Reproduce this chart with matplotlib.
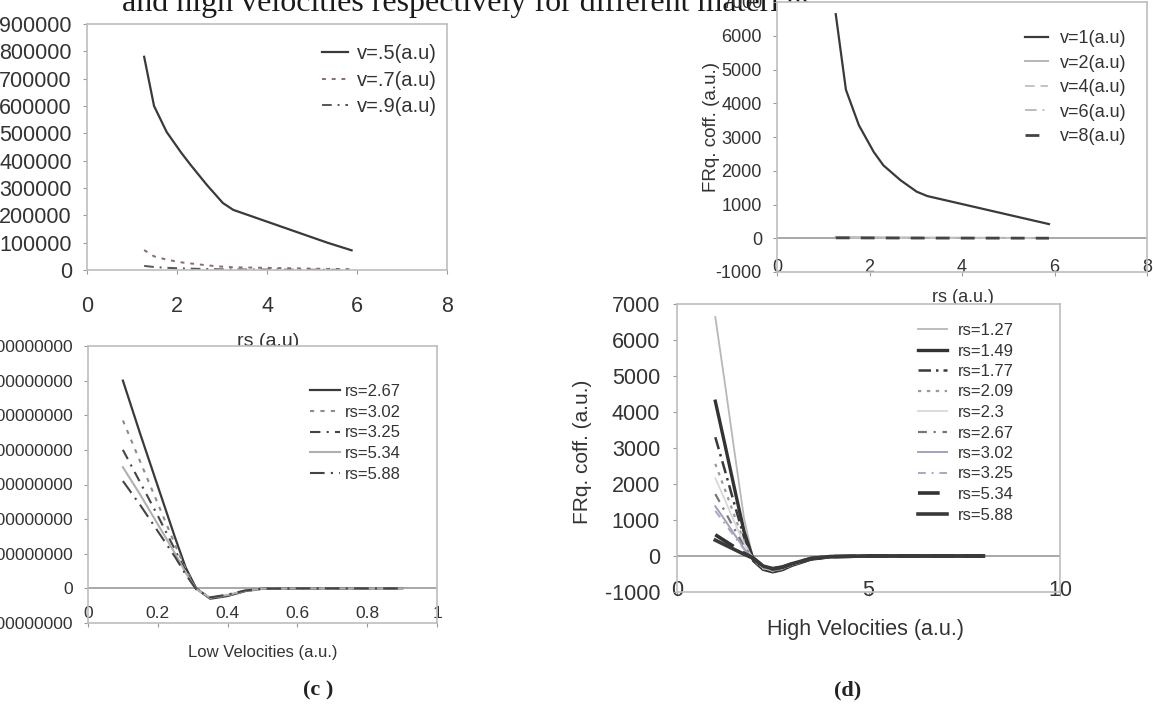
import matplotlib
matplotlib.use("Agg")
import matplotlib.pyplot as plt
from matplotlib.ticker import FuncFormatter

# ---------------- data ----------------
rs = [1.27, 1.49, 1.77, 2.09, 2.3, 2.67, 3.02, 3.25, 5.34, 5.88]

# panel (a): low velocities vs rs
a_labels = ["v=.5(a.u)", "v=.7(a.u)", "v=.9(a.u)"]
a_v05 = [780000, 600000, 505000, 430000, 385000, 310000, 245000, 220000, 100000, 72000]
a_v07 = [73000, 50000, 38000, 28000, 24000, 17000, 12000, 10000, 4000, 3000]
a_v09 = [15000, 11000, 8000, 6000, 5000, 3500, 2500, 2000, 800, 600]

# panel (b): high velocities vs rs
b_labels = ["v=1(a.u)", "v=2(a.u)", "v=4(a.u)", "v=6(a.u)", "v=8(a.u)"]
b_v1 = [6640, 4400, 3350, 2560, 2160, 1720, 1380, 1250, 590, 420]
b_v2 = [40, 36, 32, 28, 25, 22, 20, 18, 10, 8]
b_v4 = [25, 22, 20, 18, 16, 14, 12, 11, 6, 5]
b_v6 = [18, 16, 14, 12, 11, 10, 9, 8, 4, 3]
b_v8 = [12, 11, 10, 9, 8, 7, 6, 5, 3, 2]

# panel (c): FRq coefficient vs low velocity
vel_low = [0.1, 0.15, 0.2, 0.25, 0.28, 0.31, 0.35, 0.4, 0.45, 0.5, 0.6, 0.7, 0.8, 0.9]
c_labels = ["rs=2.67", "rs=3.02", "rs=3.25", "rs=5.34", "rs=5.88"]
c_267 = [6.0e8, 4.45e8, 2.95e8, 1.45e8, 0.6e8, 0.0, -0.30e8, -0.22e8, -0.08e8, -0.01e8, 0, 0, 0, 0]
c_302 = [4.85e8, 3.65e8, 2.45e8, 1.25e8, 0.55e8, 0.0, -0.29e8, -0.21e8, -0.08e8, -0.01e8, 0, 0, 0, 0]
c_325 = [4.0e8, 3.05e8, 2.1e8, 1.1e8, 0.5e8, 0.0, -0.28e8, -0.20e8, -0.07e8, -0.01e8, 0, 0, 0, 0]
c_534 = [3.5e8, 2.7e8, 1.85e8, 1.0e8, 0.45e8, -0.02e8, -0.27e8, -0.19e8, -0.07e8, -0.01e8, 0, 0, 0, 0]
c_588 = [3.1e8, 2.4e8, 1.65e8, 0.9e8, 0.4e8, -0.03e8, -0.26e8, -0.18e8, -0.06e8, -0.01e8, 0, 0, 0, 0]

# panel (d): FRq coefficient vs high velocity
vel_high = [1, 1.25, 1.5, 1.75, 2, 2.25, 2.5, 2.75, 3, 3.5, 4, 5, 6, 8]
d_labels = ["rs=1.27", "rs=1.49", "rs=1.77", "rs=2.09", "rs=2.3",
            "rs=2.67", "rs=3.02", "rs=3.25", "rs=5.34", "rs=5.88"]
d_127 = [6640, 4800, 2900, 1050, -150, -380, -450, -390, -270, -90, -25, 0, 0, 0]
d_149 = [4300, 3100, 1880, 680, -130, -370, -440, -380, -260, -88, -24, 0, 0, 0]
d_177 = [3300, 2380, 1440, 520, -120, -360, -430, -370, -255, -85, -22, 0, 0, 0]
d_209 = [2560, 1850, 1120, 400, -110, -350, -420, -360, -250, -82, -21, 0, 0, 0]
d_230 = [2160, 1560, 940, 340, -100, -340, -410, -355, -245, -80, -20, 0, 0, 0]
d_267 = [1720, 1240, 750, 270, -90, -330, -400, -345, -240, -78, -19, 0, 0, 0]
d_302 = [1380, 1000, 600, 210, -85, -320, -390, -340, -235, -75, -18, 0, 0, 0]
d_325 = [1250, 900, 540, 190, -80, -315, -385, -335, -230, -73, -18, 0, 0, 0]
d_534 = [590, 420, 250, 80, -70, -290, -360, -315, -220, -70, -16, 0, 0, 0]
d_588 = [440, 310, 180, 50, -65, -280, -350, -305, -215, -68, -15, 0, 0, 0]

# ---------------- figure ----------------
W, H = 1153, 726
fig = plt.figure(figsize=(W / 100, H / 100), dpi=100)
fig.patch.set_facecolor("white")
SANS = ["Liberation Sans", "DejaVu Sans"]
SERIF = ["Liberation Serif", "DejaVu Serif"]
TXT = "#333333"
FRAME = "#bdbdbd"
ZERO = "#9a9a9a"


def fx(x):
    return x / W


def fy(y):
    return 1 - y / H


def px_axes(x0, y0, x1, y1):
    ax = fig.add_axes([fx(x0), fy(y1), fx(x1 - x0), (y1 - y0) / H])
    ax.set_facecolor("white")
    for s in ax.spines.values():
        s.set_color(FRAME)
        s.set_linewidth(1.2)
    return ax


def style_ticks(ax, fs, xpad, ypad):
    ax.tick_params(axis="both", colors=ZERO, labelcolor=TXT, length=3, width=0.8)
    ax.tick_params(axis="x", pad=xpad, labelsize=fs)
    ax.tick_params(axis="y", pad=ypad, labelsize=fs)
    for t in ax.get_xticklabels() + ax.get_yticklabels():
        t.set_fontfamily(SANS)


def style_legend(leg):
    for t in leg.get_texts():
        t.set_color(TXT)


int_fmt = FuncFormatter(lambda v, p: f"{int(round(v))}")

# caption at top (cut by the figure edge, drawn below the axes)
fig.text(fx(122), fy(11), "and high velocities respectively for different materials",
         fontsize=23, family=SERIF, color="#1a1a1a", ha="left", va="baseline", zorder=-1)

# ---- panel (a) ----
axa = px_axes(87, 24, 447, 270)
axa.plot(rs, a_v05, color="#3a3a3a", lw=1.6, ls="-", label=a_labels[0])
axa.plot(rs, a_v07, color="#8a6a6a", lw=1.4, ls=(0, (2, 3)), label=a_labels[1])
axa.plot(rs, a_v09, color="#555555", lw=1.4, ls=(0, (5, 3, 1, 3)), label=a_labels[2])
axa.set_xlim(0, 8)
axa.set_ylim(0, 900000)
axa.set_xticks([0, 2, 4, 6, 8])
axa.set_yticks(range(0, 900001, 100000))
axa.yaxis.set_major_formatter(int_fmt)
style_ticks(axa, 15.5, 16, 7.8)
axa.set_xlabel("rs (a.u)", fontsize=14, family=SANS, color=TXT, va="center")
axa.xaxis.set_label_coords(fx(268), fy(341), transform=fig.transFigure)
la = axa.legend(loc="upper left", bbox_to_anchor=(fx(322), fy(44)),
                bbox_transform=fig.transFigure, frameon=False,
                handlelength=1.3, handletextpad=0.45, labelspacing=0.38,
                borderpad=0, borderaxespad=0, prop={"family": SANS, "size": 14.5})
style_legend(la)

# ---- panel (b) ----
axb = px_axes(777, 2, 1147, 272)
axb.axhline(0, color=ZERO, lw=1.2, zorder=1)
axb.plot(rs, b_v1, color="#3a3a3a", lw=1.6, ls="-", label=b_labels[0])
axb.plot(rs, b_v2, color="#b5b5b5", lw=1.4, ls="-", label=b_labels[1])
axb.plot(rs, b_v4, color="#c4c4c4", lw=1.4, ls=(0, (5, 3)), label=b_labels[2])
axb.plot(rs, b_v6, color="#bdbdbd", lw=1.4, ls=(0, (6, 3, 1, 3)), label=b_labels[3])
axb.plot(rs, b_v8, color="#444444", lw=2.0, ls=(0, (5, 4)), label=b_labels[4])
axb.set_xlim(0, 8)
axb.set_ylim(-1000, 7000)
axb.set_xticks([0, 2, 4, 6, 8], labels=["0", "2", "4", "6", "8"], va="center")
axb.set_yticks(range(-1000, 7001, 1000))
axb.yaxis.set_major_formatter(int_fmt)
style_ticks(axb, 13, -6.6, 7.8)
axb.set_xlabel("rs (a.u.)", fontsize=13, family=SANS, color=TXT, va="center")
axb.xaxis.set_label_coords(fx(963), fy(298), transform=fig.transFigure)
axb.set_ylabel("FRq. coff. (a.u.)", fontsize=13.5, family=SANS, color=TXT, va="center")
axb.yaxis.set_label_coords(fx(712), fy(127), transform=fig.transFigure)
lb = axb.legend(loc="upper left", bbox_to_anchor=(fx(1025), fy(30)),
                bbox_transform=fig.transFigure, frameon=False,
                handlelength=1.28, handletextpad=0.65, labelspacing=0.42,
                borderpad=0, borderaxespad=0, prop={"family": SANS, "size": 13})
style_legend(lb)

# ---- panel (c) ----
axc = px_axes(88, 346, 437, 623)
axc.axhline(0, color=ZERO, lw=1.2, zorder=1)
axc.plot(vel_low, c_267, color="#3a3a3a", lw=1.6, ls="-", label=c_labels[0])
axc.plot(vel_low, c_302, color="#8c8c8c", lw=1.5, ls=(0, (2, 3)), label=c_labels[1])
axc.plot(vel_low, c_325, color="#444444", lw=1.5, ls=(0, (5, 3, 1, 3)), label=c_labels[2])
axc.plot(vel_low, c_534, color="#b0b0b0", lw=1.5, ls="-", label=c_labels[3])
axc.plot(vel_low, c_588, color="#444444", lw=1.5, ls=(0, (7, 3, 1, 3)), label=c_labels[4])
axc.set_xlim(0, 1)
axc.set_ylim(-1e8, 7e8)
axc.set_xticks([0, 0.2, 0.4, 0.6, 0.8, 1.0],
               labels=["0", "0.2", "0.4", "0.6", "0.8", "1"], va="center")
axc.set_yticks([k * 1e8 for k in range(-1, 8)])
axc.yaxis.set_major_formatter(int_fmt)
style_ticks(axc, 12.5, -10.2, 7.8)
axc.set_xlabel("Low Velocities (a.u.)", fontsize=12, family=SANS, color=TXT, va="center")
axc.xaxis.set_label_coords(fx(263), fy(653), transform=fig.transFigure)
lc = axc.legend(loc="upper left", bbox_to_anchor=(fx(310), fy(384)),
                bbox_transform=fig.transFigure, frameon=False,
                handlelength=1.8, handletextpad=0.3, labelspacing=0.34,
                borderpad=0, borderaxespad=0, prop={"family": SANS, "size": 12})
style_legend(lc)

# ---- panel (d) ----
axd = px_axes(677, 304, 1060, 592)
axd.axhline(0, color=ZERO, lw=1.2, zorder=1)
d_series = [d_127, d_149, d_177, d_209, d_230, d_267, d_302, d_325, d_534, d_588]
d_styles = [
    ("#b8b8b8", 1.3, "-"),
    ("#333333", 2.4, "-"),
    ("#3a3a3a", 1.8, (0, (5, 2, 1, 2))),
    ("#9a9a9a", 1.6, (0, (1.5, 2.5))),
    ("#d8d8d8", 1.3, "-"),
    ("#777777", 1.6, (0, (4, 3, 1, 3))),
    ("#a0a0c0", 1.4, "-"),
    ("#a8a8c0", 1.4, (0, (4, 3, 1, 3))),
    ("#333333", 2.6, (0, (6, 3))),
    ("#3a3a3a", 2.6, "-"),
]
for ys, lab, (col, lw, ls) in zip(d_series, d_labels, d_styles):
    axd.plot(vel_high, ys, color=col, lw=lw, ls=ls, label=lab)
axd.set_xlim(0, 10)
axd.set_ylim(-1000, 7000)
axd.set_xticks([0, 5, 10], labels=["0", "5", "10"], va="center")
axd.set_yticks(range(-1000, 7001, 1000))
axd.yaxis.set_major_formatter(int_fmt)
style_ticks(axd, 15.5, -4.4, 9.2)
axd.set_xlabel("High Velocities (a.u.)", fontsize=15.5, family=SANS, color=TXT, va="center")
axd.xaxis.set_label_coords(fx(865), fy(630), transform=fig.transFigure)
axd.set_ylabel("FRq. coff. (a.u.)", fontsize=15, family=SANS, color=TXT, va="center")
axd.yaxis.set_label_coords(fx(582), fy(452), transform=fig.transFigure)
ld = axd.legend(loc="upper left", bbox_to_anchor=(fx(918), fy(323)),
                bbox_transform=fig.transFigure, frameon=False,
                handlelength=1.75, handletextpad=0.66, labelspacing=0.33,
                borderpad=0, borderaxespad=0, prop={"family": SANS, "size": 12})
style_legend(ld)

# panel captions
fig.text(fx(318), fy(690), "(c )", fontsize=16, family=SERIF, weight="bold",
         color="#222222", ha="center", va="center")
fig.text(fx(848), fy(690), "(d)", fontsize=16, family=SERIF, weight="bold",
         color="#222222", ha="center", va="center")

fig.savefig("out.png", dpi=100, facecolor="white")
